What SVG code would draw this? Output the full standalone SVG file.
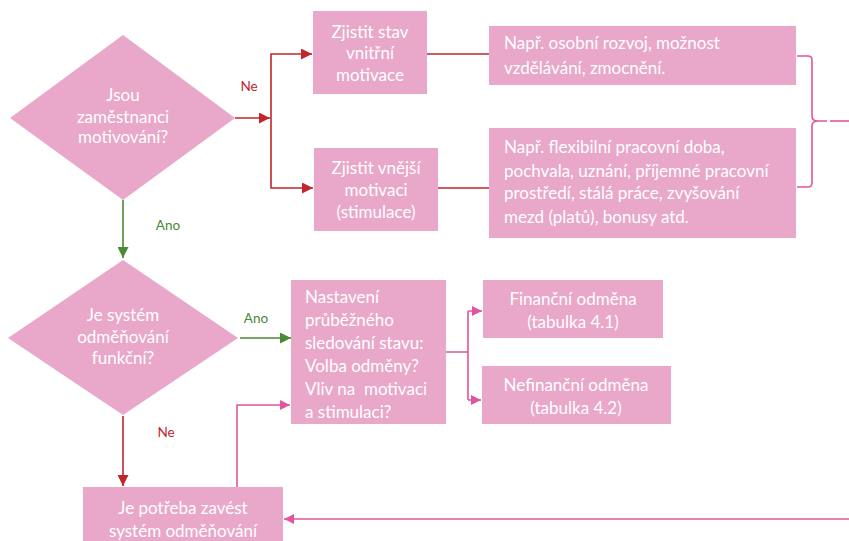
<svg xmlns="http://www.w3.org/2000/svg" width="849" height="541" viewBox="0 0 849 541">
  <defs>
    <marker id="arrRed" viewBox="0 0 10 10" refX="10" refY="5" markerWidth="11" markerHeight="11" markerUnits="userSpaceOnUse" orient="auto">
      <path d="M0,0 L10,5 L0,10 z" fill="#c0262c"/>
    </marker>
    <marker id="arrGreen" viewBox="0 0 10 10" refX="10" refY="5" markerWidth="11" markerHeight="11" markerUnits="userSpaceOnUse" orient="auto">
      <path d="M0,0 L10,5 L0,10 z" fill="#4a8a35"/>
    </marker>
    <marker id="arrPink" viewBox="0 0 10 10" refX="10" refY="5" markerWidth="10" markerHeight="10" markerUnits="userSpaceOnUse" orient="auto">
      <path d="M0,0 L10,5 L0,10 z" fill="#e0559d"/>
    </marker>
  </defs>
  <style>
    .shape { fill: #e9a7ca; }
    .t { font-family: Lato, "Open Sans", "Liberation Sans", sans-serif; font-size: 17px; fill: #ffffff; }
    .c { text-anchor: middle; }
    .lbl { font-family: Lato, "Open Sans", "Liberation Sans", sans-serif; font-size: 13.5px; }
    .red { stroke: #c0262c; stroke-width: 1.6; fill: none; }
    .green { stroke: #4a8a35; stroke-width: 1.6; fill: none; }
    .pink { stroke: #e0559d; stroke-width: 1.6; fill: none; }
  </style>
  <rect width="849" height="541" fill="#ffffff"/>

  <!-- connectors -->
  <g id="connectors">
    <path class="red" d="M235,118 L270,118" marker-end="url(#arrRed)"/>
    <path class="red" d="M271,118 L271,54 L312,54" marker-end="url(#arrRed)"/>
    <path class="red" d="M271,118 L271,188 L313,188" marker-end="url(#arrRed)"/>
    <path class="red" d="M427,54 L489,54"/>
    <path class="red" d="M438,188 L489,188"/>
    <path class="green" d="M123,200 L123,258" marker-end="url(#arrGreen)"/>
    <path class="green" d="M240,338 L291,338" marker-end="url(#arrGreen)"/>
    <path class="red" d="M123,416 L123,486" marker-end="url(#arrRed)"/>
    <path class="pink" d="M446,352 L468,352 M468,311 L468,400 M468,311 L482,311" marker-end="url(#arrPink)"/>
    <path class="pink" d="M468,400 L481,400" marker-end="url(#arrPink)"/>
    <path class="pink" d="M237,487 L237,405 L290,405" marker-end="url(#arrPink)"/>
    <path class="pink" d="M849,519 L284,519" marker-end="url(#arrPink)"/>
    <!-- bracket joining the two example boxes -->
    <path class="pink" d="M797,56 L808,56 Q812,56 812,60 L812,116 Q812,121 818,121 L827,121 M818,121 Q812,121 812,126 L812,183 Q812,187 808,187 L797,187"/>
    <path class="pink" d="M830,121 L849,121"/>
    <text class="lbl" x="249" y="91" fill="#c0262c" text-anchor="middle">Ne</text>
    <text class="lbl" x="168" y="230" fill="#4a8a35" text-anchor="middle">Ano</text>
    <text class="lbl" x="256" y="323" fill="#4a8a35" text-anchor="middle">Ano</text>
    <text class="lbl" x="166" y="437" fill="#c0262c" text-anchor="middle">Ne</text>
  </g>

  <!-- decision: are employees motivated -->
  <g id="q-motivated">
    <polygon class="shape" points="123,35 235,118 123,200 10,118"/>
    <text class="t c" x="123" y="101">Jsou</text>
    <text class="t c" x="123" y="123">zaměstnanci</text>
    <text class="t c" x="123" y="143">motivování?</text>
  </g>

  <g id="inner-motivation">
    <rect class="shape" x="313" y="11" width="114" height="83"/>
    <text class="t c" x="370" y="38">Zjistit stav</text>
    <text class="t c" x="370" y="59">vnitřní</text>
    <text class="t c" x="370" y="81">motivace</text>
  </g>

  <g id="outer-motivation">
    <rect class="shape" x="314" y="148" width="124" height="83"/>
    <text class="t c" x="376" y="174">Zjistit vnější</text>
    <text class="t c" x="376" y="196">motivaci</text>
    <text class="t c" x="376" y="218">(stimulace)</text>
  </g>

  <g id="inner-examples">
    <rect class="shape" x="489" y="26" width="307" height="59"/>
    <text class="t" x="504" y="49">Např. osobní rozvoj, možnost</text>
    <text class="t" x="504" y="74">vzdělávání, zmocnění.</text>
  </g>

  <g id="outer-examples">
    <rect class="shape" x="489" y="128" width="307" height="110"/>
    <text class="t" x="504" y="153">Např. flexibilní pracovní doba,</text>
    <text class="t" x="504" y="177">pochvala, uznání, příjemné pracovní</text>
    <text class="t" x="504" y="199">prostředí, stálá práce, zvyšování</text>
    <text class="t" x="504" y="223">mezd (platů), bonusy atd.</text>
  </g>

  <!-- decision: is the reward system working -->
  <g id="q-reward">
    <polygon class="shape" points="123,260 238,338 123,415 8,338"/>
    <text class="t c" x="123" y="321">Je systém</text>
    <text class="t c" x="123" y="343">odměňování</text>
    <text class="t c" x="123" y="364">funkční?</text>
  </g>

  <g id="monitoring">
    <rect class="shape" x="291" y="280" width="155" height="144"/>
    <text class="t" x="305" y="303">Nastavení</text>
    <text class="t" x="305" y="326">průběžného</text>
    <text class="t" x="305" y="349">sledování stavu:</text>
    <text class="t" x="305" y="372">Volba odměny?</text>
    <text class="t" x="305" y="395" xml:space="preserve">Vliv na  motivaci</text>
    <text class="t" x="305" y="418">a stimulaci?</text>
  </g>

  <g id="financial">
    <rect class="shape" x="483" y="280" width="180" height="58"/>
    <text class="t c" x="573" y="305">Finanční odměna</text>
    <text class="t c" x="573" y="328">(tabulka 4.1)</text>
  </g>

  <g id="non-financial">
    <rect class="shape" x="482" y="366" width="189" height="58"/>
    <text class="t c" x="576" y="391">Nefinanční odměna</text>
    <text class="t c" x="576" y="414">(tabulka 4.2)</text>
  </g>

  <g id="introduce-system">
    <rect class="shape" x="83" y="487" width="200" height="60"/>
    <text class="t c" x="183" y="514">Je potřeba zavést</text>
    <text class="t c" x="183" y="537">systém odměňování</text>
  </g>
</svg>
